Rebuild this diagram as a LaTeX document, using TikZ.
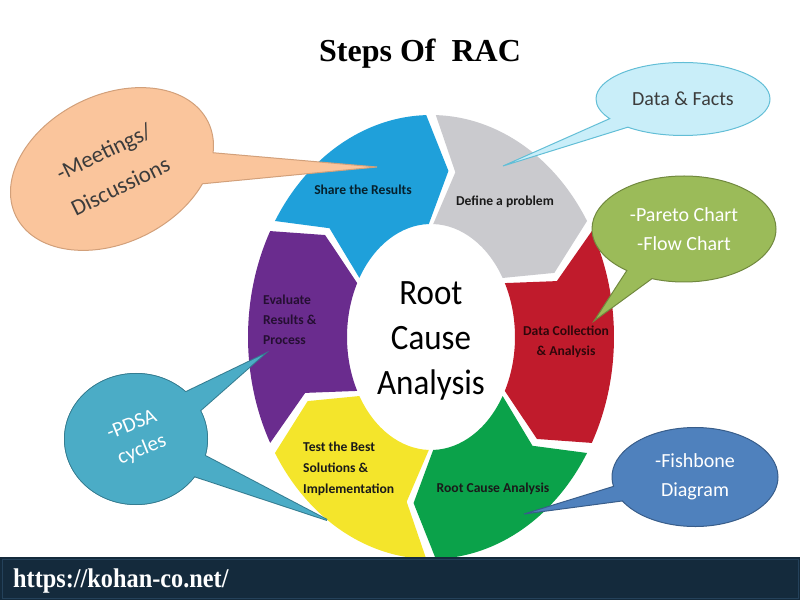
\documentclass[tikz,border=0pt]{standalone}
\usepackage{fontspec}
\setmainfont{Carlito}
\newfontfamily\serifbold{Liberation Serif}
\usepackage{tikz}
\usetikzlibrary{shapes.callouts, shapes.geometric}

\definecolor{segblue}{HTML}{1FA0DA}
\definecolor{seggray}{HTML}{CACACE}
\definecolor{segred}{HTML}{C01B2C}
\definecolor{seggreen}{HTML}{0BA24A}
\definecolor{segyellow}{HTML}{F4E52B}
\definecolor{segpurple}{HTML}{6A2C8E}
\definecolor{peachfill}{HTML}{FAC59C}
\definecolor{peachedge}{HTML}{D2A07A}
\definecolor{factfill}{HTML}{C9EEF9}
\definecolor{factedge}{HTML}{62BED6}
\definecolor{paretofill}{HTML}{9BBB59}
\definecolor{paretoedge}{HTML}{71893F}
\definecolor{fishfill}{HTML}{4F81BD}
\definecolor{fishedge}{HTML}{385D8A}
\definecolor{pdsafill}{HTML}{4BACC6}
\definecolor{pdsaedge}{HTML}{357D91}
\definecolor{footerbg}{HTML}{142A3C}
\definecolor{footeredge}{HTML}{24415A}
\definecolor{darktext}{HTML}{1A1A1A}

\begin{document}
\begin{tikzpicture}[
    x = 1pt, y = 1pt,
    seglabel/.style = {font = \fontsize{13.6}{20}\selectfont\bfseries, text = darktext, inner sep = 0pt},
    bubble/.style = {ellipse callout, inner sep = 0pt, callout pointer arc = 18},
    bubbletext/.style = {font = \fontsize{20}{29}\selectfont, align = center}
  ]
  \useasboundingbox (0,0) rectangle (800,600);

  \node[font = \serifbold\bfseries\fontsize{32}{36}\selectfont, anchor = base] (Title) at (420,538) {Steps Of~ RAC};

  % six arrows round the ring, clockwise
  \begin{scope}[shift = {(431,263)}]
    \foreach \b/\col in {150/segblue, 90/seggray, 30/segred, -30/seggreen, -90/segyellow, -150/segpurple} {
      \pgfmathsetmacro{\back}{\b-1.5}
      \pgfmathsetmacro{\front}{\b-58.5}
      \pgfmathsetmacro{\tip}{\b-67.5}
      \pgfmathsetmacro{\notch}{\b-10.5}
      \fill[\col] (\back:183pt and 222pt)
        arc[start angle = \back, end angle = \front, x radius = 183pt, y radius = 222pt]
        -- (\tip:133.5pt and 167.5pt)
        -- (\front:84pt and 113pt)
        arc[start angle = \front, end angle = \back, x radius = 84pt, y radius = 113pt]
        -- (\notch:133.5pt and 167.5pt) -- cycle;
    }
  \end{scope}

  \node[font = \fontsize{33}{42}\selectfont, align = center, text = black, yscale = 1.08] (Center) at (431,259) {Root\\Cause\\Analysis};

  % callouts
  \node[bubble, fill = peachfill, draw = peachedge, line width = 1pt, rotate = 26,
        minimum width = 214pt, minimum height = 148pt, callout pointer arc = 22,
        callout absolute pointer = {(377,433)},
        font = \fontsize{23}{38}\selectfont, align = center, text = darktext!85] (Meetings) at (112,431) {-Meetings/\\Discussions};
  \node[bubble, bubbletext, fill = factfill, draw = factedge, line width = 1pt,
        minimum width = 174pt, minimum height = 73pt,
        callout absolute pointer = {(503,434)}, text = darktext!85] (Facts) at (683,501) {Data \& Facts};
  \node[bubble, bubbletext, fill = paretofill, draw = paretoedge, line width = 1pt,
        minimum width = 184pt, minimum height = 106pt,
        callout absolute pointer = {(594,279)}, text = white] (Pareto) at (684,371) {-Pareto Chart\\-Flow Chart};
  \node[bubble, bubbletext, fill = fishfill, draw = fishedge, line width = 1pt,
        minimum width = 166pt, minimum height = 99pt,
        callout absolute pointer = {(524,86)}, text = white] (Fishbone) at (695,123) {-Fishbone\\Diagram};

  % two tails on one bubble
  \begin{scope}[nodes = {bubble, fill = pdsafill, minimum width = 142pt, minimum height = 130pt, callout pointer arc = 20}]
    \node[draw = pdsaedge, line width = 2pt, callout absolute pointer = {(263,245)}] (PdsaA) at (136,161) {};
    \node[draw = pdsaedge, line width = 2pt, callout absolute pointer = {(327,80)}]  (PdsaB) at (136,161) {};
    \node[callout absolute pointer = {(263,245)}] (PdsaC) at (136,161) {};
    \node[callout absolute pointer = {(327,80)}]  (PdsaD) at (136,161) {};
  \end{scope}
  \node[bubbletext, font = \fontsize{21}{27}\selectfont, text = white, rotate = 22] (Pdsa) at (137,162) {-PDSA\\cycles};

  % labels on the arrows
  \node[seglabel, text = segblue!20!black] (Share)  at (363,410) {Share the Results};
  \node[seglabel] (Define) at (505,398) {Define a problem};
  \node[seglabel, align = center, text = segred!25!black] (Collect) at (566,258) {Data Collection\\\& Analysis};
  \node[seglabel] (RootCause) at (493,111) {Root Cause Analysis};
  \node[seglabel, align = left, anchor = west, font = \fontsize{13.6}{21}\selectfont\bfseries] (Test) at (303,131) {Test the Best\\Solutions \&\\Implementation};
  \node[seglabel, align = left, anchor = west, text = segpurple!35!black] (Evaluate) at (263,280) {Evaluate\\Results \&\\Process};

  % footer
  \fill[footerbg] (0,0) rectangle (800,43);
  \draw[footeredge, line width = 1pt] (2,2) rectangle (798,41);
  \node[font = \serifbold\bfseries\fontsize{27}{30}\selectfont, text = white, anchor = base west, xscale = 0.9] (Url) at (10,13) {https://kohan-co.net/};
\end{tikzpicture}
\end{document}
